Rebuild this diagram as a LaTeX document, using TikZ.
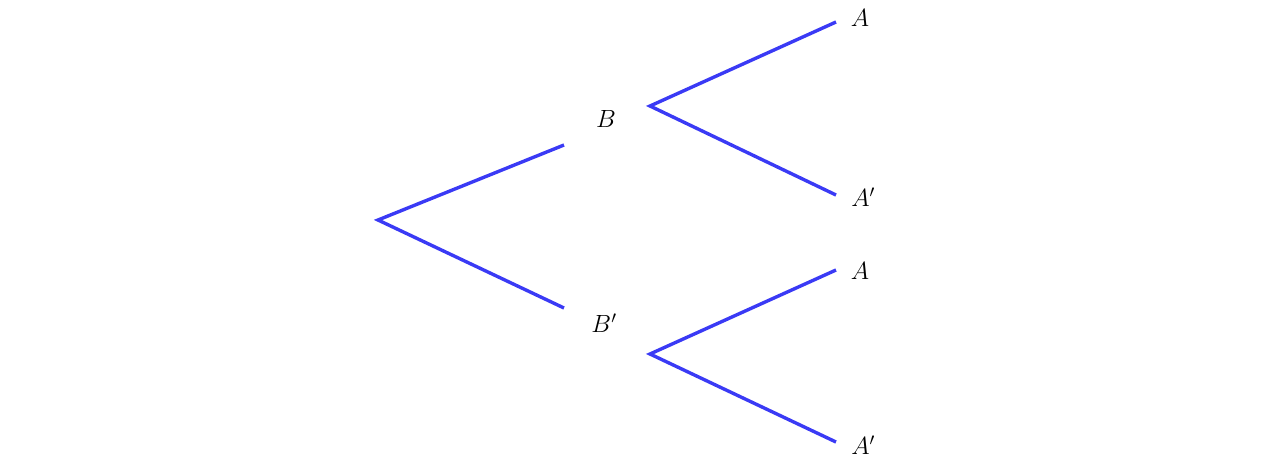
\documentclass[tikz,border=0pt]{standalone}
\begin{document}
\begin{tikzpicture}[x=1pt,y=-1pt,
  branch/.style={draw=treeblue,line width=3.4pt},
  lbl/.style={inner sep=0pt,font=\fontsize{26}{30}\selectfont}]
\definecolor{treeblue}{RGB}{58,58,245}
\useasboundingbox (0,0) rectangle (1280,461);
\coordinate (r) at (378,220);
\coordinate (b1) at (564,145);
\coordinate (b2) at (564,308);
\coordinate (s1) at (650,106);
\coordinate (s2) at (650,354);
\coordinate (a1) at (836,22);
\coordinate (a2) at (836,195);
\coordinate (a3) at (836,270);
\coordinate (a4) at (836,442);
\node[lbl] (B) at (606,119) {$B$};
\node[lbl] (Bp) at (604,323) {$B'$};
\node[lbl] (A1) at (860,18) {$A$};
\node[lbl] (A2) at (863,197) {$A'$};
\node[lbl] (A3) at (860,271) {$A$};
\node[lbl] (A4) at (863,445) {$A'$};
\draw[branch] (b1) -- (r) -- (b2);
\draw[branch] (a1) -- (s1) -- (a2);
\draw[branch] (a3) -- (s2) -- (a4);
\end{tikzpicture}
\end{document}
